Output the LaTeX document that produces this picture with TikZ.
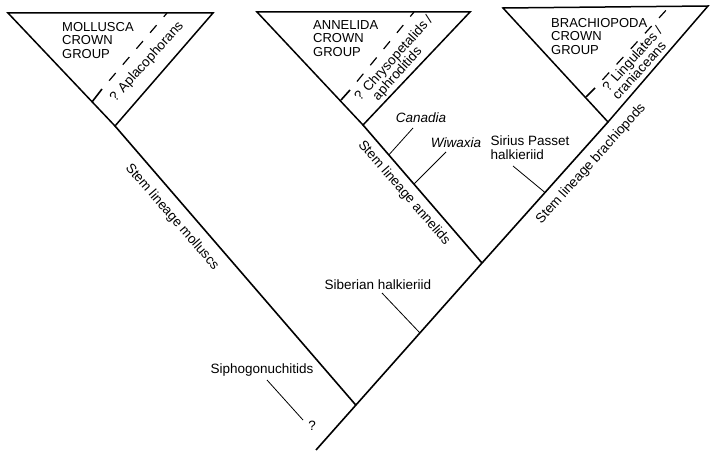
\documentclass[tikz,border=0pt]{standalone}
\usepackage{fontspec}
\setmainfont{Liberation Sans}
\usetikzlibrary{positioning}

\begin{document}
\begin{tikzpicture}[
    x=1pt, y=-1pt,
    clade/.style={draw, line width=1.5pt, line join=miter},
    lineage/.style={line width=1.6pt},
    tick/.style={line width=0.8pt},
    crown/.style={line width=1.2pt, dash pattern=on 10pt off 11pt, dash phase=10pt},
    grouptext/.style={font=\fontsize{13}{13.5}\selectfont, align=left, inner sep=0pt, anchor=north west},
    taxon/.style={font=\fontsize{13.5}{14}\selectfont, inner sep=0pt},
    sister/.style={taxon, font=\fontsize{13.5}{13}\selectfont, align=left, rotate=48},
    stemtext/.style={taxon}
]
    \useasboundingbox (0,0) rectangle (714,457);

    % crown group triangles
    \coordinate (mollTL) at (8,13);
    \coordinate (mollTR) at (213,13);
    \coordinate (mollApex) at (115,126);
    \coordinate (anneTL) at (257,12);
    \coordinate (anneTR) at (470,12);
    \coordinate (anneApex) at (363,125);
    \coordinate (bracTL) at (503,8);
    \coordinate (bracTR) at (708,6);
    \coordinate (bracApex) at (608,122);
    \draw[clade] (mollTL) -- (mollTR) -- (mollApex) -- cycle;
    \draw[clade] (anneTL) -- (anneTR) -- (anneApex) -- cycle;
    \draw[clade] (bracTL) -- (bracTR) -- (bracApex) -- cycle;

    % sister branches inside the crown groups
    \coordinate (mollBr) at (92,102);
    \coordinate (mollBrA) at (102,89);
    \coordinate (mollBrTop) at (167,13);
    \coordinate (anneBr) at (341,100);
    \coordinate (anneBrA) at (350,90);
    \coordinate (anneBrTop) at (414,12);
    \coordinate (bracBr) at (586,97);
    \coordinate (bracBrA) at (595,88);
    \coordinate (bracBrTop) at (669,7);
    \draw[lineage] (mollBr) -- (mollBrA);
    \draw[crown] (mollBrA) -- (mollBrTop);
    \draw[lineage] (anneBr) -- (anneBrA);
    \draw[crown] (anneBrA) -- (anneBrTop);
    \draw[lineage] (bracBr) -- (bracBrA);
    \draw[crown] (bracBrA) -- (bracBrTop);

    \node[grouptext] (mollTitle) at (62,22) {MOLLUSCA\\CROWN\\GROUP};
    \node[grouptext] (anneTitle) at (313,20) {ANNELIDA\\CROWN\\GROUP};
    \node[grouptext] (bracTitle) at (551,18) {BRACHIOPODA\\CROWN\\GROUP};
    \node[sister] (aplac) at (147,62) {? Aplacophorans};
    \node[sister] (chrys) at (399,63) {? Chrysopetalids /\\\phantom{? }aphroditids};
    \node[sister] (lingu) at (637,63) {? Lingulates /\\craniaceans};

    % stem lineages
    \coordinate (root) at (316,450);
    \coordinate (jAB) at (482,263);
    \draw[lineage] (root) -- coordinate[pos=0.24] (jMoll) coordinate[pos=0.626] (jSib) (jAB)
        -- coordinate[pos=0.5] (jSir) (bracApex);
    \draw[lineage] (jAB) -- coordinate[pos=0.572] (jWiw) coordinate[pos=0.783] (jCan) (anneApex);
    \draw[lineage] (jMoll) -- (mollApex);

    \node[stemtext, rotate=-49] (stemMoll) at (172,217) {Stem lineage molluscs};
    \node[stemtext, rotate=-49] (stemAnne) at (404,193) {Stem lineage annelids};
    \node[stemtext, rotate=48] (stemBrac) at (591,164) {Stem lineage brachiopods};

    % fossil taxa
    \node[taxon, font=\fontsize{13.5}{14}\selectfont\itshape] (canadia) at (421,118) {Canadia};
    \node[taxon, font=\fontsize{13.5}{14}\selectfont\itshape] (wiwaxia) at (456,143) {Wiwaxia};
    \node[taxon, align=left] (sirius) at (530,148) {Sirius Passet\\halkieriid};
    \node[taxon] (siberian) at (378,285) {Siberian halkieriid};
    \node[taxon] (sipho) at (262,370) {Siphogonuchitids};
    \node[taxon] (unknown) at (312,426) {?};

    \coordinate (canEnd) at (413,128);
    \coordinate (wiwEnd) at (446,152);
    \coordinate (sirEnd) at (513,166);
    \coordinate (sibEnd) at (382,293);
    \coordinate (siphoEnd) at (267,380);
    \coordinate (unknownEnd) at (303,420);
    \draw[tick] (jCan) -- (canEnd);
    \draw[tick] (jWiw) -- (wiwEnd);
    \draw[tick] (jSir) -- (sirEnd);
    \draw[tick] (jSib) -- (sibEnd);
    \draw[tick] (siphoEnd) -- (unknownEnd);
\end{tikzpicture}
\end{document}
